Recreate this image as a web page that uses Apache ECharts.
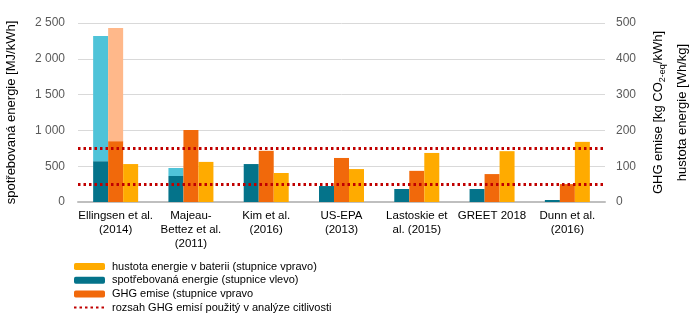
<!DOCTYPE html>
<html><head><meta charset="utf-8">
<script src="https://cdn.jsdelivr.net/npm/echarts@6/dist/echarts.min.js"></script>
<style>html,body{margin:0;padding:0;background:#fff}#c{width:697px;height:328px}</style>
</head><body><div id="c"></div>
<script>
const categories = ['Ellingsen et al.\n(2014)', 'Majeau-\nBettez et al.\n(2011)', 'Kim et al.\n(2016)', 'US-EPA\n(2013)', 'Lastoskie et\nal. (2015)', 'GREET 2018', 'Dunn et al.\n(2016)'];
const energyLow = [570, 363, 530, 223, 182, 182, 28];
const energyHigh = [2320, 475, null, null, null, null, null];
const ghgLow = [170, 201, 143, 123, 87, 78, 50];
const ghgHigh = [486, null, null, null, null, null, null];
const density = [106, 112, 81, 92, 137, 142, 168];
const ghgRange = [50, 150];
const leftTicks = [0, 500, 1000, 1500, 2000, 2500];
const rightTicks = [0, 100, 200, 300, 400, 500];

const names = {
  dens: 'hustota energie v baterii (stupnice vpravo)',
  energy: 'spotřebovaná energie (stupnice vlevo)',
  ghg: 'GHG emise (stupnice vpravo',
  range: 'rozsah GHG emisí použitý v analýze citlivosti'
};
const delta = (hi, lo) => hi.map((h, i) => h == null ? null : h - lo[i]);
const fmt = v => String(v).replace(/\B(?=(\d{3})+$)/g, ' ');
const font = 'Liberation Sans';

const chart = echarts.init(document.getElementById('c'), null, {renderer: 'canvas'});
chart.setOption({
  animation: false,
  textStyle: {fontFamily: font},
  grid: {left: 78, right: 92, top: 23, bottom: 126, outerBoundsMode: 'none', containLabel: false},
  legend: {
    orient: 'vertical', left: 68, top: 256, itemWidth: 31, itemHeight: 7, itemGap: 2.7,
    textStyle: {fontSize: 11, color: '#000', fontFamily: font, padding: [0, 0, 0, 2]},
    data: [names.dens, names.energy, names.ghg,
      {name: names.range, itemStyle: {color: 'rgba(0,0,0,0)', opacity: 0, borderWidth: 0}}]
  },
  xAxis: {
    type: 'category', data: categories,
    axisTick: {show: false},
    axisLine: {lineStyle: {color: '#BFBFBF', width: 2}},
    axisLabel: {interval: 0, color: '#000', fontSize: 11.5, lineHeight: 14, margin: 7}
  },
  yAxis: [
    {
      type: 'value', min: leftTicks[0], max: leftTicks[leftTicks.length - 1], interval: 500,
      name: 'spotřebovaná energie [MJ/kWh]', nameLocation: 'middle', nameRotate: 90, nameGap: 60,
      nameTextStyle: {fontSize: 13, color: '#000'},
      axisLabel: {formatter: fmt, color: '#595959', fontSize: 12, margin: 13},
      splitLine: {lineStyle: {color: '#D9D9D9'}},
      axisLine: {show: false}, axisTick: {show: false}
    },
    {
      type: 'value', min: rightTicks[0], max: rightTicks[rightTicks.length - 1], interval: 100,
      name: 'GHG emise [kg CO{sub|2-eq}/kWh]\nhustota energie [Wh/kg]', nameLocation: 'middle', nameRotate: 90, nameGap: 40,
      nameTextStyle: {fontSize: 13, color: '#000', lineHeight: 24, rich: {sub: {fontSize: 9, padding: [7, 0, 0, 0]}}},
      axisLabel: {color: '#595959', fontSize: 12, margin: 11},
      splitLine: {show: false}, axisLine: {show: false}, axisTick: {show: false}
    }
  ],
  series: [
    {name: names.energy, type: 'bar', stack: 'e', yAxisIndex: 0, data: energyLow, barWidth: 15, barGap: '0%', itemStyle: {color: '#04738A'}},
    {name: 'energyRange', type: 'bar', stack: 'e', yAxisIndex: 0, data: delta(energyHigh, energyLow), barWidth: 15, barGap: '0%', itemStyle: {color: '#4FC3D8'}},
    {name: names.ghg, type: 'bar', stack: 'g', yAxisIndex: 1, data: ghgLow, barWidth: 15, barGap: '0%', itemStyle: {color: '#F1690B'}},
    {name: 'ghgRange', type: 'bar', stack: 'g', yAxisIndex: 1, data: delta(ghgHigh, ghgLow), barWidth: 15, barGap: '0%', itemStyle: {color: '#FFB88A'}},
    {name: names.dens, type: 'bar', stack: 'd', yAxisIndex: 1, data: density, barWidth: 15, barGap: '0%', itemStyle: {color: '#FFAB00'}},
    {
      name: names.range, type: 'line', yAxisIndex: 1, data: [], symbol: 'none',
      lineStyle: {color: '#C00000', width: 3, type: [2.5, 3]},
      markLine: {
        silent: true, symbol: 'none', label: {show: false},
        lineStyle: {color: '#C00000', width: 3, type: [2.5, 3]},
        data: ghgRange.map(v => ({yAxis: v}))
      }
    }
  ]
});
</script></body></html>
